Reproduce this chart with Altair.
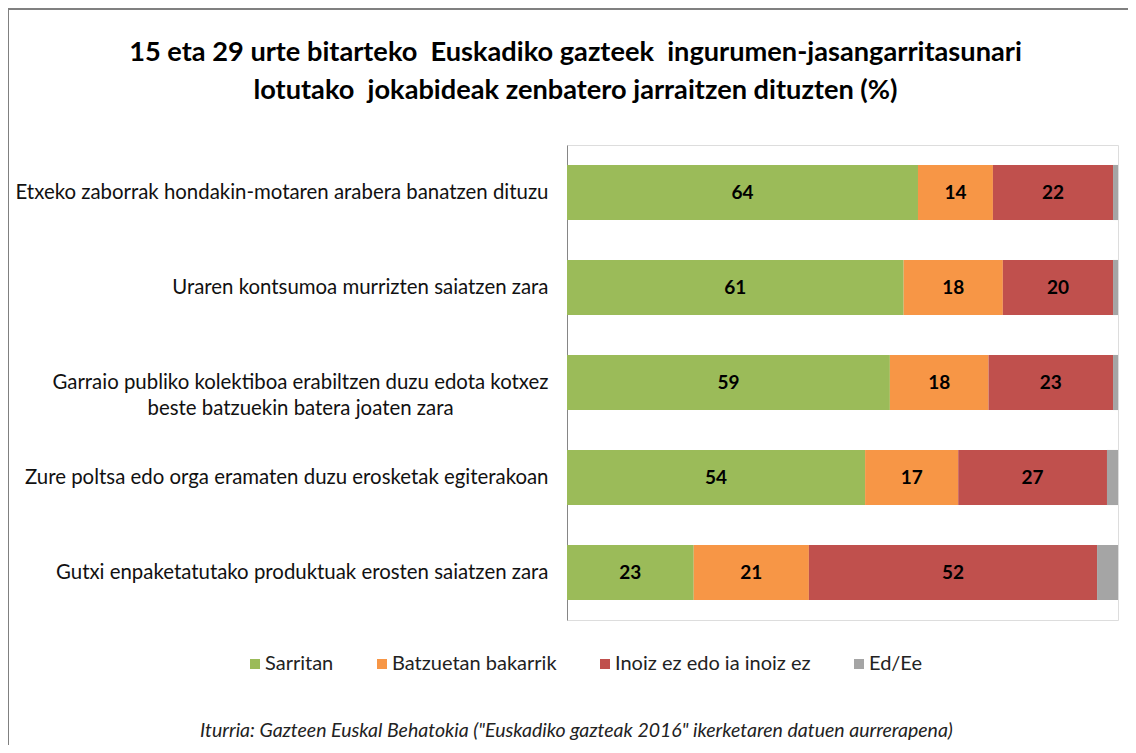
import altair as alt
import pandas as pd

categories = [
    "Etxeko zaborrak hondakin-motaren arabera banatzen dituzu",
    "Uraren kontsumoa murrizten saiatzen zara",
    "Garraio publiko kolektiboa erabiltzen duzu edota kotxez|beste batzuekin batera joaten zara",
    "Zure poltsa edo orga eramaten duzu erosketak egiterakoan",
    "Gutxi enpaketatutako produktuak erosten saiatzen zara",
]
series = ["Sarritan", "Batzuetan bakarrik", "Inoiz ez edo ia inoiz ez", "Ed/Ee"]
sarritan = [63.7, 61.1, 58.6, 54.1, 23.0]
batzuetan = [13.6, 18.0, 17.9, 16.9, 20.9]
inoiz = [21.8, 20.0, 22.6, 27.0, 52.3]
ed_ee = [0.9, 0.9, 0.9, 2.0, 3.8]
colors = ["#9BBB59", "#F79646", "#C0504D", "#A5A5A5"]

title_lines = [
    "15 eta 29 urte bitarteko \u00a0Euskadiko gazteek \u00a0ingurumen-jasangarritasunari",
    "lotutako \u00a0jokabideak zenbatero jarraitzen dituzten (%)",
]
source = 'Iturria: Gazteen Euskal Behatokia ("Euskadiko gazteak 2016" ikerketaren datuen aurrerapena)'

rows = []
for s_i, (s, vals) in enumerate(zip(series, [sarritan, batzuetan, inoiz, ed_ee])):
    for c, v in zip(categories, vals):
        rows.append({"cat": c, "series": s, "ord": s_i, "value": v})
df = pd.DataFrame(rows)

FONT = "Lato"

base = alt.Chart(df).transform_stack(
    stack="value", groupby=["cat"], as_=["x0", "x1"], sort=[alt.SortField("ord", order="ascending")]
).transform_calculate(mid="(datum.x0 + datum.x1) / 2")

yenc = alt.Y(
    "cat:N",
    sort=categories,
    scale=alt.Scale(paddingInner=0.42, paddingOuter=0.21),
    axis=alt.Axis(
        title=None,
        ticks=False,
        domainColor="#868686",
        domainWidth=1,
        labelFont=FONT,
        labelFontSize=20.4,
        labelColor="#111111",
        labelLimit=700,
        labelLineHeight=26,
        labelExpr="split(datum.label, '|')",
        labelAlign={"condition": {"test": "indexof(datum.value, '|') >= 0", "value": "center"}, "value": "right"},
        labelPadding={"condition": {"test": "indexof(datum.value, '|') >= 0", "value": 267}, "value": 19},
    ),
)

xscale = alt.Scale(domain=[0, 100], nice=False, zero=True)

bars = base.mark_bar(strokeWidth=0).encode(
    x=alt.X(
        "x0:Q",
        scale=xscale,
        axis=alt.Axis(
            title=source,
            labels=False,
            ticks=False,
            domain=False,
            grid=False,
            titleFont=FONT,
            titleFontSize=19.5,
            titleFontStyle="italic",
            titleFontWeight="normal",
            titleColor="#222222",
            titleAlign="center",
            titleBaseline="middle",
            titleX=9,
            titleY=110,
        ),
    ),
    x2="x1:Q",
    y=yenc,
    color=alt.Color(
        "series:N",
        sort=series,
        scale=alt.Scale(domain=series, range=colors),
        legend=alt.Legend(
            title=None,
            orient="none",
            legendX=-322,
            legendY=509,
            padding=0,
            direction="horizontal",
            symbolType="square",
            symbolSize=100,
            symbolStrokeWidth=0,
            labelFont=FONT,
            labelFontSize=20,
            labelColor="#222222",
            labelLimit=400,
            columnPadding=38,
            labelOffset=0,
        ),
    ),
)

texts = base.transform_filter(alt.datum.series != "Ed/Ee").mark_text(
    font=FONT, fontSize=19, fontWeight="bold", color="#000000"
).encode(
    x=alt.X("mid:Q", scale=xscale),
    y=alt.Y("cat:N", sort=categories),
    text=alt.Text("value:Q", format=".0f"),
)

frame = alt.Chart(df).mark_rect(fill=None, stroke="#808080", strokeWidth=2, clip=False).encode(
    x=alt.value(-559),
    x2=alt.value(700),
    y=alt.value(-136),
    y2=alt.value(900),
)

chart = alt.layer(frame, bars, texts).properties(
    width=551,
    height=475,
    title=alt.Title(
        text=title_lines,
        font=FONT,
        fontSize=27.2,
        fontWeight="bold",
        color="#000000",
        anchor="middle",
        dx=-267,
        dy=97,
        offset=0,
        lineHeight=38,
    ),
    autosize=alt.AutoSizeParams(type="none"),
    padding={"left": 559, "top": 137, "right": 10, "bottom": 125},
).configure_view(stroke=None).configure(background="white")

chart.save("out.html", embed_options={"renderer": "svg", "actions": False})
